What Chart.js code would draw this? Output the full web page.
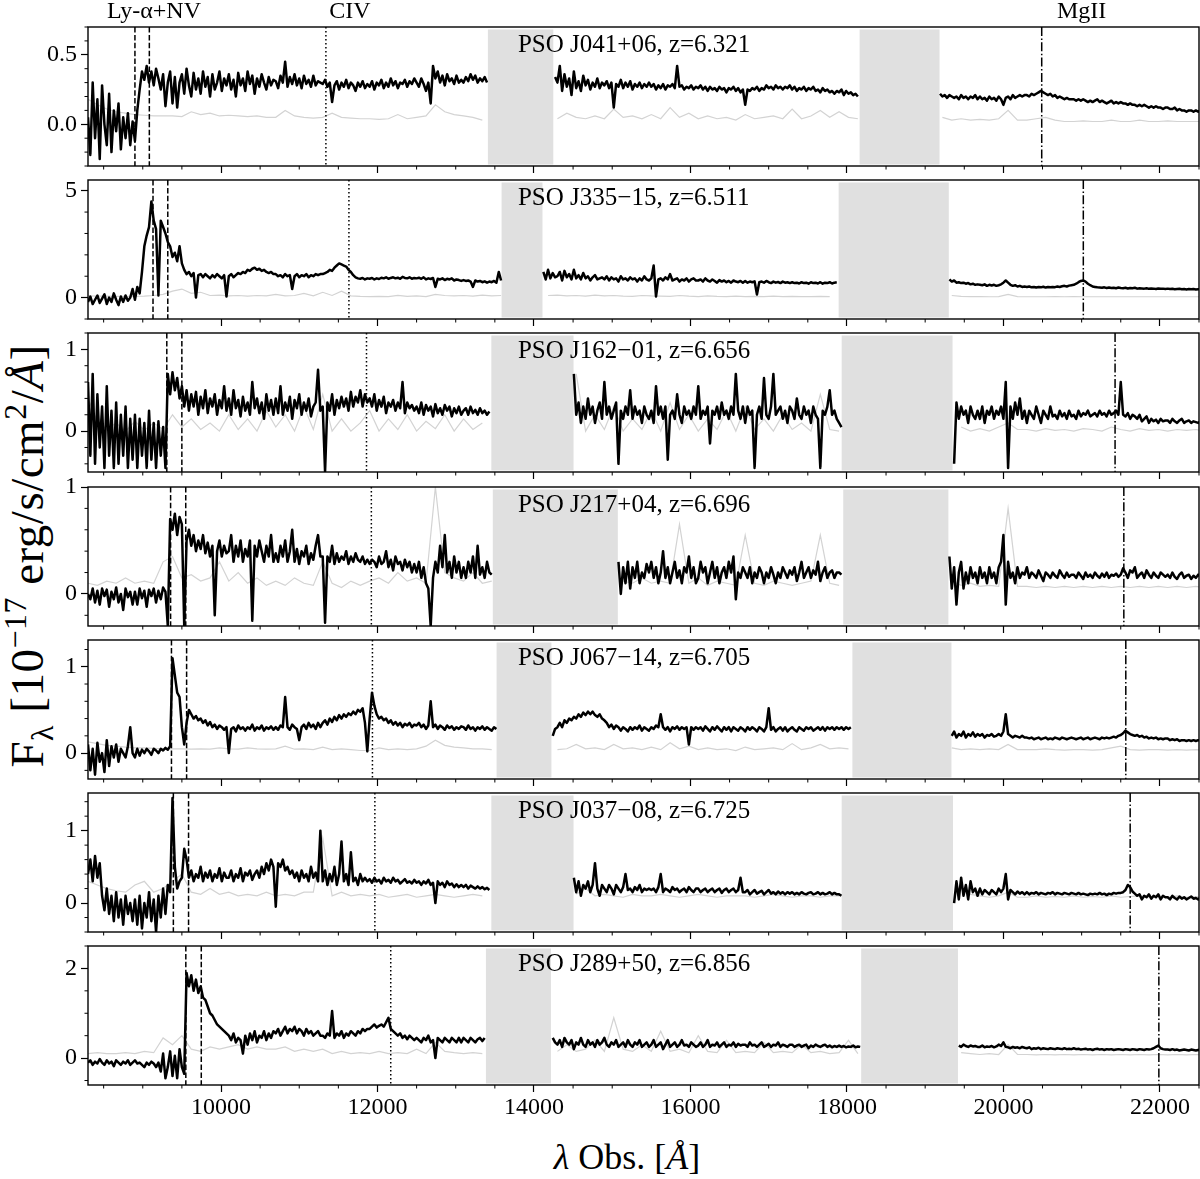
<!DOCTYPE html>
<html>
<head>
<meta charset="utf-8">
<script src="https://cdn.jsdelivr.net/npm/chart.js@4.4.1/dist/chart.umd.min.js"></script>
<style>
body { margin: 0; background: #fff; }
#wrap { position: relative; width: 1200px; height: 1179px; overflow: hidden; font-family: "Liberation Serif", serif; color: #000; }
#wrap canvas { position: absolute; left: 0; }
#xlab { position: absolute; left: 627px; top: 1157px; transform: translate(-50%, -50%); font-size: 36px; white-space: nowrap; }
#ylab { position: absolute; left: 27px; top: 556px; transform: translate(-50%, -50%) rotate(-90deg); font-size: 47px; letter-spacing: 0.5px; white-space: nowrap; }
sup, sub { font-size: 0.68em; line-height: 0; }
</style>
</head>
<body>
<div id="wrap">
  <div id="ylab">F<sub>λ</sub> [10<sup>−17</sup> erg/s/cm<sup>2</sup>/<i>Å</i>]</div>
  <div id="xlab"><i>λ</i> Obs. [<i>Å</i>]</div>
</div>
<script>
// null = no data (telluric gap)
const _ = null;

const names = ['PSO J041+06', 'PSO J335\u221215', 'PSO J162\u221201', 'PSO J217+04', 'PSO J067\u221214', 'PSO J037\u221208', 'PSO J289+50'];
const redshifts = [6.321, 6.511, 6.656, 6.696, 6.705, 6.725, 6.856];
// rest wavelengths: Ly-a, NV, CIV, MgII
const restLines = [1215.67, 1240.81, 1549.06, 2798.75];
const topLabels = ['Ly-\u03b1+NV', 'CIV', 'MgII'];
const topLabelWave = [9143, 11648, 21000];

// grey bands (observed wavelength ranges)
const telluric = [
  [[13411, 14247], [18162, 19184]],
  [[13586, 14109], [17894, 19302]],
  [[13455, 14506], [17933, 19350]],
  [[13474, 15072], [17953, 19297]],
  [[13522, 14223], [18070, 19336]],
  [[13455, 14506], [17933, 19356]],
  [[13386, 14217], [18182, 19419]]
];

const xTicks = [10000, 12000, 14000, 16000, 18000, 20000, 22000];
const yMin = [-0.3, -1.0, -0.5, -0.3, -0.3, -0.4, -0.6];
const yMax = [0.7, 5.5, 1.2, 1.0, 1.31, 1.52, 2.5];
const yTicks = [[0, 0.5], [0, 5], [0, 1], [0, 1], [0, 1], [0, 1], [0, 2]];
const yMinor = [0.1, 1, 0.2, 0.2, 0.2, 0.2, 0.5];

// flux sampled every 30 A from 8300 A (rows of 600 A), error every 120 A
const fluxStart = 8300, fluxStep = 30;
const errStart = 8300, errStep = 120;

const fluxP1 = [
  0.05,-0.22,0.3,-0.1,0.18,-0.25,0.28,0.0,-0.15,0.22,-0.2,0.1,-0.05,0.15,-0.18,0.05,-0.1,0.08,-0.15,0.02,
  -0.12,0.1,0.25,0.38,0.32,0.42,0.3,0.38,0.28,0.4,0.33,0.25,0.36,0.13,0.3,0.38,0.15,0.34,0.12,0.3,
  0.36,0.22,0.4,0.28,0.2,0.37,0.25,0.33,0.22,0.38,0.27,0.34,0.2,0.36,0.25,0.3,0.38,0.24,0.33,0.28,
  0.36,0.25,0.32,0.2,0.37,0.28,0.33,0.24,0.38,0.29,0.35,0.22,0.33,0.27,0.36,0.3,0.25,0.34,0.28,0.32,
  0.31,0.26,0.35,0.3,0.45,0.27,0.34,0.29,0.36,0.28,0.33,0.26,0.35,0.29,0.32,0.27,0.35,0.28,0.31,0.3,
  0.29,0.32,0.27,0.3,0.16,0.28,0.31,0.25,0.3,0.27,0.32,0.26,0.3,0.28,0.24,0.3,0.27,0.31,0.26,0.29,
  0.27,0.31,0.25,0.3,0.28,0.32,0.26,0.3,0.27,0.33,0.28,0.31,0.26,0.3,0.29,0.32,0.27,0.31,0.29,0.33,
  0.3,0.27,0.33,0.29,0.24,0.3,0.15,0.42,0.33,0.38,0.3,0.35,0.28,0.36,0.31,0.33,0.29,0.35,0.3,0.32,
  0.3,0.34,0.31,0.36,0.32,0.35,0.3,0.33,0.31,0.34,0.3,_,_,_,_,_,_,_,_,_,
  _,_,_,_,_,_,_,_,_,_,_,_,_,_,_,_,_,_,_,0.34,
  0.3,0.42,0.24,0.36,0.27,0.33,0.21,0.38,0.26,0.31,0.24,0.35,0.28,0.32,0.25,0.3,0.27,0.33,0.26,0.3,
  0.28,0.31,0.26,0.3,0.12,0.29,0.27,0.32,0.26,0.3,0.27,0.31,0.25,0.29,0.27,0.3,0.26,0.29,0.27,0.3,
  0.27,0.29,0.25,0.28,0.26,0.29,0.25,0.28,0.27,0.29,0.26,0.42,0.27,0.28,0.25,0.27,0.26,0.28,0.25,0.27,
  0.26,0.28,0.25,0.27,0.24,0.27,0.25,0.26,0.24,0.27,0.25,0.26,0.23,0.26,0.25,0.27,0.24,0.26,0.23,0.25,
  0.14,0.25,0.24,0.26,0.25,0.27,0.24,0.26,0.25,0.28,0.26,0.27,0.25,0.28,0.26,0.27,0.25,0.27,0.26,0.28,
  0.25,0.27,0.24,0.26,0.25,0.27,0.24,0.26,0.25,0.27,0.24,0.25,0.23,0.26,0.24,0.25,0.23,0.24,0.22,0.24,
  0.23,0.25,0.21,0.24,0.22,0.23,0.21,0.22,0.2,_,_,_,_,_,_,_,_,_,_,_,
  _,_,_,_,_,_,_,_,_,_,_,_,_,_,_,_,_,_,_,_,
  _,_,_,0.22,0.2,0.21,0.19,0.21,0.2,0.19,0.2,0.18,0.21,0.19,0.2,0.18,0.2,0.19,0.21,0.18,
  0.2,0.18,0.19,0.17,0.2,0.18,0.19,0.17,0.2,0.18,0.14,0.19,0.2,0.18,0.21,0.19,0.2,0.21,0.2,0.21,
  0.21,0.2,0.22,0.21,0.22,0.23,0.24,0.23,0.22,0.21,0.22,0.2,0.21,0.19,0.2,0.19,0.18,0.19,0.18,0.18,
  0.18,0.17,0.18,0.17,0.18,0.17,0.16,0.17,0.16,0.17,0.18,0.16,0.17,0.16,0.15,0.16,0.17,0.15,0.16,0.15,
  0.16,0.15,0.15,0.14,0.15,0.14,0.14,0.13,0.14,0.13,0.14,0.13,0.12,0.13,0.12,0.13,0.12,0.12,0.11,0.12,
  0.12,0.11,0.11,0.12,0.1,0.11,0.1,0.1,0.09,0.1,0.1,0.09,0.1,0.09,0.1
];
const errP1 = [
  0.18,0.14,0.11,0.09,0.08,0.07,0.065,0.06,0.06,0.06,
  0.055,0.09,0.07,0.08,0.06,0.065,0.06,0.055,0.06,0.05,
  0.05,0.1,0.06,0.05,0.045,0.05,0.08,0.05,0.045,0.04,
  0.04,0.035,0.04,0.07,0.04,0.05,0.06,0.14,0.09,0.07,
  0.06,0.05,0.03,_,_,_,_,_,_,_,
  0.04,0.08,0.05,0.04,0.06,0.04,0.11,0.05,0.06,0.04,
  0.07,0.04,0.12,0.05,0.08,0.04,0.06,0.04,0.05,0.03,
  0.07,0.04,0.05,0.06,0.04,0.11,0.04,0.06,0.1,0.05,
  0.09,0.05,0.04,_,_,_,_,_,_,_,
  _,0.05,0.03,0.04,0.03,0.035,0.03,0.04,0.1,0.03,
  0.03,0.04,0.05,0.03,0.02,0.02,0.025,0.02,0.02,0.03,
  0.02,0.02,0.03,0.02,0.02,0.025,0.02,0.02,0.02,0.02
];

const fluxP2 = [
  -0.2,0.05,-0.3,-0.1,0.1,-0.25,-0.05,0.15,-0.3,0.0,-0.2,0.2,-0.1,-0.35,0.05,-0.2,0.1,-0.15,0.0,0.4,
  -0.1,0.5,0.2,1.2,2.4,2.9,3.3,4.5,3.6,3.2,0.1,3.6,3.3,3.0,2.6,2.4,1.9,2.1,1.7,2.4,
  1.6,1.3,1.1,1.2,1.0,1.15,0.0,1.05,1.1,0.95,1.1,1.0,0.9,1.05,0.95,1.1,1.0,0.9,1.05,0.05,
  1.0,1.1,0.95,1.05,1.15,1.1,1.2,1.15,1.3,1.25,1.35,1.4,1.3,1.35,1.25,1.3,1.2,1.15,1.2,1.1,
  1.1,1.0,1.05,0.95,1.1,1.0,1.05,0.4,1.0,1.1,0.95,1.05,1.0,1.1,0.95,1.05,1.0,1.1,1.05,1.1,
  1.1,1.15,1.2,1.3,1.25,1.4,1.5,1.6,1.55,1.5,1.45,1.3,1.2,1.05,0.95,0.9,0.88,0.92,0.85,0.9,
  0.88,0.92,0.85,0.9,0.87,0.93,0.9,0.95,0.88,0.92,0.95,0.9,0.93,0.88,0.97,0.92,0.9,0.95,0.88,0.92,
  0.9,0.93,0.88,0.95,0.85,0.9,0.87,0.92,0.5,0.88,0.85,0.9,0.82,0.88,0.85,0.9,0.8,0.85,0.82,0.78,
  0.82,0.78,0.8,0.75,0.5,0.8,0.75,0.78,0.72,0.76,0.7,0.75,0.72,0.78,0.7,1.2,0.8,_,_,_,
  _,_,_,_,_,_,_,_,_,_,_,_,_,_,1.2,0.85,1.3,0.9,1.15,0.95,
  1.0,1.2,0.8,1.25,0.95,1.1,0.85,1.3,0.9,1.05,0.85,1.15,0.9,1.0,0.8,0.95,1.05,0.85,0.9,0.95,
  0.85,1.0,0.8,0.95,0.85,0.9,0.75,1.0,0.85,0.9,0.8,0.95,0.85,0.9,0.75,0.9,0.8,1.0,0.85,0.8,
  0.9,1.5,0.05,0.85,0.9,0.8,0.95,0.85,1.1,0.8,0.85,0.9,0.75,0.85,0.8,0.9,0.75,0.85,0.9,0.8,
  0.8,0.85,0.75,0.9,0.8,0.75,0.85,0.78,0.7,0.82,0.75,0.8,0.72,0.78,0.7,0.8,0.75,0.72,0.78,0.7,
  0.78,0.7,0.75,0.72,0.76,0.15,0.72,0.75,0.7,0.78,0.72,0.68,0.75,0.7,0.73,0.68,0.75,0.7,0.72,0.68,
  0.72,0.68,0.7,0.66,0.72,0.68,0.7,0.65,0.72,0.68,0.7,0.66,0.72,0.65,0.7,0.68,0.72,0.66,0.7,0.72,
  _,_,_,_,_,_,_,_,_,_,_,_,_,_,_,_,_,_,_,_,
  _,_,_,_,_,_,_,_,_,_,_,_,_,_,_,_,_,_,_,_,
  _,_,_,_,_,_,_,0.85,0.75,0.8,0.7,0.72,0.68,0.7,0.65,0.68,0.62,0.65,0.6,0.62,
  0.6,0.58,0.62,0.55,0.6,0.57,0.6,0.55,0.58,0.62,0.7,0.8,0.7,0.6,0.55,0.58,0.52,0.55,0.5,0.52,
  0.5,0.52,0.48,0.5,0.47,0.5,0.48,0.51,0.47,0.5,0.48,0.5,0.49,0.52,0.5,0.53,0.55,0.52,0.56,0.58,
  0.6,0.65,0.72,0.78,0.8,0.75,0.65,0.58,0.52,0.5,0.48,0.47,0.46,0.48,0.45,0.47,0.45,0.46,0.44,0.47,
  0.45,0.44,0.46,0.43,0.45,0.44,0.46,0.42,0.44,0.43,0.42,0.44,0.41,0.43,0.42,0.4,0.43,0.41,0.42,0.4,
  0.42,0.4,0.41,0.39,0.4,0.41,0.39,0.4,0.38,0.4,0.39,0.4,0.38,0.39,0.4
];
const errP2 = [
  0.08,0.07,0.07,0.06,0.06,0.06,0.07,0.1,0.15,0.3,
  0.4,0.2,0.25,0.1,0.12,0.08,0.1,0.07,0.1,0.08,
  0.15,0.08,0.1,0.2,0.08,0.25,0.1,0.3,0.08,0.06,
  0.05,0.06,0.05,0.1,0.06,0.08,0.05,0.15,0.1,0.08,
  0.1,0.07,0.12,0.08,0.1,_,_,_,_,0.1,
  0.12,0.08,0.1,0.07,0.12,0.08,0.1,0.07,0.06,0.1,
  0.08,0.07,0.06,0.1,0.07,0.05,0.08,0.06,0.05,0.07,
  0.05,0.06,0.05,0.07,0.05,0.06,0.05,0.05,0.06,0.05,
  _,_,_,_,_,_,_,_,_,_,
  _,_,0.1,0.06,0.05,0.05,0.04,0.05,0.15,0.05,
  0.04,0.04,0.04,0.05,0.04,0.05,0.04,0.04,0.04,0.04,
  0.04,0.04,0.04,0.04,0.04,0.04,0.04,0.04,0.04,0.04
];

const fluxP3 = [
  0.6,-0.3,0.7,-0.4,0.45,-0.2,0.3,-0.45,0.55,-0.3,0.25,-0.45,0.35,-0.4,0.2,-0.3,0.3,-0.45,0.15,-0.35,
  0.2,-0.45,0.15,-0.3,0.1,-0.45,0.25,-0.35,0.1,-0.45,0.12,-0.3,0.05,-0.45,0.7,0.45,0.72,0.5,0.65,0.4,
  0.55,0.3,0.5,0.25,0.45,0.3,0.48,0.2,0.42,0.28,0.5,0.22,0.4,0.3,0.45,0.2,0.38,0.28,0.55,0.25,
  0.4,0.2,0.5,0.28,0.38,0.18,0.42,0.25,0.35,0.2,0.6,0.28,0.4,0.22,0.35,0.15,0.45,0.25,0.38,0.2,
  0.4,0.22,0.55,0.2,0.35,0.25,0.42,0.15,0.38,0.28,0.45,0.2,0.35,0.25,0.4,0.18,0.3,0.35,0.75,0.25,
  0.3,-0.5,0.35,0.25,0.45,0.2,0.38,0.28,0.42,0.3,0.4,0.25,0.48,0.3,0.42,0.35,0.5,0.3,0.45,0.35,
  0.4,0.3,0.45,0.25,0.38,0.3,0.42,0.22,0.35,0.3,0.38,0.25,0.35,0.28,0.6,0.22,0.35,0.28,0.32,0.25,
  0.3,0.22,0.35,0.2,0.32,0.25,0.3,0.18,0.33,0.22,0.28,0.2,0.32,0.25,0.3,0.18,0.28,0.22,0.3,0.2,
  0.25,0.28,0.2,0.3,0.22,0.26,0.2,0.28,0.22,0.25,0.2,0.24,_,_,_,_,_,_,_,_,
  _,_,_,_,_,_,_,_,_,_,_,_,_,_,_,_,_,_,_,_,
  _,_,_,_,_,_,_,0.7,0.2,0.35,0.1,0.3,0.15,0.4,0.2,0.3,0.1,0.25,0.35,0.15,
  0.6,0.2,0.3,0.15,0.25,0.35,-0.4,0.25,0.15,0.3,0.2,0.5,0.15,0.3,0.2,0.25,0.1,0.3,0.2,0.15,
  0.25,0.1,0.55,0.2,0.3,0.15,0.3,-0.35,0.2,0.25,0.15,0.45,0.2,0.1,0.3,0.2,0.25,0.15,0.3,0.2,
  0.55,0.15,0.25,0.2,0.3,-0.15,0.25,0.2,0.3,0.15,0.35,0.2,0.25,0.15,0.3,0.2,0.7,0.25,0.15,0.3,
  0.1,0.3,0.2,0.25,-0.45,0.2,0.3,0.15,0.65,0.2,0.15,0.3,0.7,0.2,0.25,0.3,0.15,0.25,0.1,0.3,
  0.25,0.15,0.4,0.2,0.15,0.3,0.2,0.25,0.1,0.3,0.2,0.15,-0.45,0.25,0.2,0.3,0.5,0.2,0.25,0.15,
  0.1,0.05,_,_,_,_,_,_,_,_,_,_,_,_,_,_,_,_,_,_,
  _,_,_,_,_,_,_,_,_,_,_,_,_,_,_,_,_,_,_,_,
  _,_,_,_,_,_,_,_,_,-0.4,0.35,0.15,0.3,0.2,0.25,0.1,0.3,0.2,0.15,0.25,
  0.15,0.3,0.1,0.25,0.2,0.3,0.15,0.25,0.2,0.3,0.15,0.6,-0.45,0.3,0.15,0.35,0.2,0.4,0.15,0.25,
  0.1,0.25,0.2,0.15,0.3,0.2,0.1,0.25,0.2,0.15,0.3,0.18,0.2,0.15,0.25,0.18,0.22,0.15,0.25,0.18,
  0.2,0.15,0.25,0.18,0.22,0.2,0.25,0.18,0.2,0.22,0.18,0.25,0.2,0.22,0.18,0.25,0.2,0.22,0.25,0.2,
  0.6,0.2,0.18,0.22,0.15,0.2,0.18,0.15,0.2,0.12,0.15,0.18,0.1,0.15,0.12,0.14,0.1,0.15,0.12,0.13,
  0.13,0.1,0.15,0.12,0.1,0.13,0.15,0.1,0.12,0.13,0.1,0.12,0.11,0.1,0.12
];
const errP3 = [
  0.4,0.12,0.02,0.1,0.0,0.12,0.01,0.1,0.02,0.2,
  0.05,0.15,0.02,0.1,0.0,0.2,0.02,0.15,0.0,0.25,
  0.05,0.2,0.0,0.3,0.02,0.45,0.0,0.15,0.0,0.1,
  0.25,0.0,0.15,0.02,0.2,0.0,0.12,0.03,0.2,0.0,
  0.15,0.02,0.1,_,_,_,_,_,_,_,
  _,_,0.7,0.0,0.2,0.02,0.3,0.0,0.15,0.02,
  0.25,0.0,0.35,0.02,0.2,0.0,0.15,0.02,0.25,0.0,
  0.3,0.02,0.15,0.0,0.2,0.02,0.1,0.0,0.45,0.02,
  0.0,_,_,_,_,_,_,_,_,_,
  _,_,_,0.05,0.0,0.03,0.0,0.05,0.1,0.02,
  0.02,0.0,0.03,0.01,0.02,0.0,0.03,0.02,0.0,0.05,
  0.02,0.0,0.03,0.01,0.02,0.0,0.02,0.01,0.02,0.0
];

const fluxP4 = [
  0.0,-0.05,0.05,-0.08,0.03,-0.1,0.05,-0.02,0.04,-0.12,0.02,-0.05,0.06,-0.08,0.0,-0.15,0.05,-0.03,0.02,-0.1,
  0.02,-0.1,0.05,-0.04,0.03,-0.12,0.04,-0.02,0.05,-0.08,0.03,-0.05,0.06,0.02,-0.3,0.7,0.6,0.75,0.55,0.72,
  0.65,-0.3,0.5,0.6,0.45,0.55,0.4,0.5,0.42,0.55,0.38,0.48,0.35,0.45,-0.2,0.4,0.5,0.35,0.45,0.38,
  0.4,0.55,0.3,0.45,0.35,0.5,0.3,0.42,0.35,0.5,-0.25,0.45,0.35,0.5,0.4,0.3,0.45,0.35,0.55,0.3,
  0.38,0.3,0.45,0.35,0.5,0.3,0.4,0.6,0.3,0.42,0.28,0.4,0.35,0.45,0.28,0.38,0.32,0.45,0.55,0.35,
  0.35,-0.27,0.35,0.3,0.45,0.28,0.38,0.3,0.35,0.32,0.4,0.28,0.35,0.3,0.38,0.32,0.3,0.35,0.28,0.32,
  0.28,0.32,0.3,0.25,0.35,0.28,0.3,0.4,0.25,0.32,0.22,0.35,0.28,0.3,0.22,0.32,0.25,0.3,0.2,0.28,
  0.2,0.3,0.15,0.25,0.1,0.05,-0.3,0.15,0.3,0.2,0.45,0.25,0.55,0.2,0.3,0.15,0.35,0.2,0.3,0.15,
  0.25,0.15,0.3,0.2,0.35,0.15,0.45,0.18,0.25,0.15,0.3,0.2,0.18,_,_,_,_,_,_,_,
  _,_,_,_,_,_,_,_,_,_,_,_,_,_,_,_,_,_,_,_,
  _,_,_,_,_,_,_,_,_,_,_,_,_,_,_,_,_,_,_,_,
  _,_,_,_,_,_,0.3,0.0,0.25,0.1,0.3,0.05,0.25,0.15,0.3,0.1,0.2,0.15,0.28,0.2,
  0.3,0.15,0.25,0.1,0.2,0.4,0.15,0.25,0.1,0.2,0.3,0.15,0.22,0.1,0.25,0.2,0.35,0.15,0.25,0.1,
  0.15,0.3,0.2,0.25,0.1,0.2,0.3,0.15,0.25,0.1,0.2,0.25,0.15,0.3,0.2,0.35,-0.05,0.2,0.15,0.25,
  0.2,0.15,0.25,0.1,0.2,0.15,0.25,0.2,0.1,0.2,0.15,0.25,0.18,0.1,0.2,0.15,0.25,0.2,0.15,0.22,
  0.18,0.25,0.12,0.2,0.3,0.15,0.2,0.25,0.15,0.22,0.18,0.3,0.12,0.2,0.25,0.15,0.2,0.22,0.15,0.2,
  0.2,0.18,_,_,_,_,_,_,_,_,_,_,_,_,_,_,_,_,_,_,
  _,_,_,_,_,_,_,_,_,_,_,_,_,_,_,_,_,_,_,_,
  _,_,_,_,_,_,_,0.35,0.05,0.25,-0.1,0.2,0.3,0.05,0.2,0.1,0.25,0.15,0.2,0.1,
  0.25,0.15,0.2,0.1,0.25,0.15,0.2,0.1,0.25,0.3,0.55,-0.1,0.3,0.15,0.2,0.1,0.25,0.15,0.2,0.18,
  0.25,0.15,0.2,0.18,0.15,0.22,0.17,0.12,0.2,0.18,0.15,0.2,0.17,0.15,0.22,0.18,0.15,0.2,0.16,0.18,
  0.18,0.15,0.2,0.17,0.14,0.2,0.16,0.18,0.15,0.2,0.17,0.15,0.19,0.16,0.2,0.15,0.18,0.17,0.19,0.16,
  0.18,0.24,0.2,0.15,0.22,0.2,0.25,0.15,0.18,0.2,0.15,0.22,0.18,0.15,0.2,0.17,0.15,0.2,0.18,0.16,
  0.18,0.15,0.2,0.16,0.14,0.18,0.2,0.15,0.17,0.18,0.14,0.17,0.15,0.18,0.16
];
const errP4 = [
  0.1,0.08,0.12,0.1,0.15,0.1,0.12,0.1,0.3,0.35,
  0.15,0.18,0.12,0.15,0.3,0.12,0.2,0.1,0.15,0.08,
  0.12,0.08,0.15,0.1,0.08,0.3,0.1,0.06,0.12,0.08,
  0.12,0.15,0.1,0.2,0.12,0.15,0.1,1.0,0.2,0.15,
  0.12,0.2,0.1,0.12,_,_,_,_,_,_,
  _,_,_,_,_,_,_,0.12,0.1,0.15,
  0.1,0.12,0.1,0.65,0.1,0.15,0.08,0.12,0.1,0.08,
  0.55,0.1,0.08,0.12,0.1,0.08,0.1,0.12,0.55,0.1,
  0.08,_,_,_,_,_,_,_,_,_,
  _,_,0.12,0.08,0.1,0.07,0.08,0.07,0.8,0.07,
  0.07,0.06,0.07,0.06,0.07,0.06,0.07,0.06,0.07,0.06,
  0.07,0.06,0.07,0.06,0.07,0.06,0.07,0.06,0.07,0.06
];

const fluxP5 = [
  0.1,-0.2,0.05,-0.25,0.12,-0.1,0.0,-0.22,0.15,-0.15,0.08,-0.05,0.1,-0.1,0.05,0.0,-0.05,0.08,0.3,0.0,
  -0.05,0.05,-0.03,0.04,0.0,0.05,0.02,-0.02,0.05,0.03,0.0,0.05,0.03,0.06,0.04,0.08,1.1,0.9,0.7,0.65,
  0.3,0.1,0.35,0.5,0.45,0.4,0.43,0.38,0.4,0.35,0.38,0.32,0.36,0.3,0.33,0.28,0.32,0.3,0.27,0.3,
  0.0,0.28,0.3,0.25,0.32,0.28,0.3,0.26,0.3,0.28,0.33,0.26,0.3,0.28,0.32,0.26,0.3,0.28,0.31,0.27,
  0.3,0.27,0.32,0.3,0.65,0.3,0.27,0.33,0.3,0.28,0.15,0.3,0.33,0.28,0.35,0.3,0.33,0.28,0.35,0.3,
  0.35,0.38,0.33,0.4,0.36,0.42,0.38,0.44,0.4,0.45,0.42,0.46,0.44,0.48,0.45,0.5,0.48,0.52,0.35,0.02,
  0.4,0.7,0.55,0.45,0.4,0.42,0.38,0.4,0.35,0.38,0.33,0.36,0.32,0.35,0.3,0.34,0.32,0.35,0.3,0.33,
  0.32,0.35,0.3,0.33,0.28,0.32,0.6,0.3,0.33,0.28,0.32,0.3,0.27,0.32,0.29,0.31,0.27,0.3,0.28,0.31,
  0.3,0.27,0.32,0.28,0.3,0.26,0.3,0.28,0.31,0.27,0.3,0.28,0.26,0.3,0.28,_,_,_,_,_,
  _,_,_,_,_,_,_,_,_,_,_,_,_,_,_,_,_,_,0.2,0.28,
  0.3,0.35,0.3,0.38,0.35,0.4,0.38,0.42,0.4,0.45,0.42,0.47,0.44,0.48,0.45,0.48,0.44,0.42,0.45,0.4,
  0.38,0.35,0.3,0.33,0.28,0.32,0.3,0.26,0.3,0.28,0.25,0.3,0.27,0.3,0.28,0.32,0.26,0.3,0.28,0.26,
  0.3,0.28,0.32,0.3,0.45,0.3,0.27,0.3,0.25,0.3,0.28,0.31,0.27,0.3,0.28,0.3,0.1,0.3,0.27,0.3,
  0.28,0.3,0.26,0.31,0.28,0.25,0.3,0.27,0.31,0.28,0.25,0.3,0.27,0.3,0.25,0.3,0.28,0.26,0.3,0.28,
  0.25,0.3,0.27,0.3,0.28,0.25,0.3,0.28,0.25,0.3,0.52,0.27,0.3,0.25,0.28,0.3,0.26,0.3,0.25,0.28,
  0.3,0.27,0.25,0.3,0.28,0.26,0.3,0.28,0.3,0.26,0.28,0.3,0.27,0.3,0.26,0.3,0.28,0.3,0.27,0.3,
  0.28,0.3,0.27,0.3,0.28,0.3,_,_,_,_,_,_,_,_,_,_,_,_,_,_,
  _,_,_,_,_,_,_,_,_,_,_,_,_,_,_,_,_,_,_,_,
  _,_,_,_,_,_,_,_,0.2,0.25,0.18,0.22,0.2,0.25,0.18,0.22,0.2,0.24,0.19,0.22,
  0.2,0.22,0.18,0.21,0.2,0.22,0.19,0.2,0.22,0.2,0.25,0.45,0.22,0.2,0.18,0.2,0.19,0.18,0.2,0.18,
  0.18,0.17,0.18,0.16,0.17,0.18,0.16,0.17,0.18,0.16,0.17,0.16,0.18,0.17,0.16,0.18,0.17,0.16,0.17,0.18,
  0.17,0.16,0.17,0.18,0.16,0.17,0.18,0.16,0.17,0.18,0.17,0.16,0.18,0.17,0.18,0.17,0.18,0.19,0.18,0.2,
  0.21,0.23,0.26,0.24,0.22,0.21,0.2,0.21,0.19,0.2,0.18,0.19,0.17,0.18,0.17,0.18,0.16,0.17,0.16,0.17,
  0.17,0.15,0.16,0.15,0.16,0.14,0.15,0.15,0.14,0.15,0.14,0.15,0.14,0.15,0.14
];
const errP5 = [
  0.13,0.11,0.09,0.08,0.07,0.06,0.06,0.055,0.05,0.05,
  0.05,0.045,0.05,0.045,0.06,0.05,0.045,0.06,0.05,0.045,
  0.05,0.08,0.045,0.05,0.04,0.07,0.04,0.05,0.04,0.03,
  0.03,0.06,0.04,0.05,0.04,0.05,0.08,0.15,0.09,0.07,
  0.06,0.05,0.05,0.04,_,_,_,_,_,_,
  0.04,0.05,0.1,0.05,0.06,0.04,0.1,0.05,0.06,0.04,
  0.07,0.04,0.12,0.05,0.08,0.04,0.06,0.04,0.05,0.03,
  0.07,0.04,0.05,0.06,0.04,0.11,0.04,0.06,0.1,0.05,
  0.06,0.05,_,_,_,_,_,_,_,_,
  _,_,0.06,0.04,0.05,0.04,0.05,0.04,0.1,0.04,
  0.04,0.04,0.05,0.04,0.035,0.04,0.04,0.035,0.04,0.06,
  0.08,0.04,0.035,0.04,0.04,0.035,0.04,0.035,0.04,0.035
];

const fluxP6 = [
  0.4,0.6,0.3,0.65,0.35,0.55,0.1,-0.1,0.2,-0.15,0.1,-0.25,0.15,-0.2,0.05,-0.3,0.1,-0.15,0.0,-0.25,
  0.05,-0.3,0.1,-0.35,0.0,-0.2,0.15,-0.25,0.05,-0.4,0.1,-0.2,0.2,-0.15,0.25,0.15,1.45,0.5,0.2,0.3,
  0.35,0.75,0.6,0.35,0.45,0.3,0.4,0.35,0.5,0.3,0.42,0.35,0.45,0.3,0.4,0.35,0.48,0.3,0.42,0.35,
  0.35,0.45,0.3,0.4,0.35,0.48,0.3,0.42,0.38,0.45,0.32,0.4,0.45,0.35,0.5,0.4,0.55,0.45,0.6,0.5,
  -0.05,0.55,0.5,0.6,0.45,0.5,0.4,0.45,0.35,0.42,0.3,0.45,0.35,0.4,0.3,0.5,0.35,0.42,0.3,1.0,
  0.3,0.45,0.25,0.4,0.3,0.5,0.25,0.4,0.85,0.3,0.4,0.25,0.7,0.3,0.35,0.25,0.4,0.3,0.35,0.3,
  0.33,0.28,0.35,0.3,0.32,0.27,0.35,0.3,0.32,0.28,0.35,0.3,0.32,0.27,0.3,0.33,0.28,0.3,0.27,0.32,
  0.28,0.3,0.25,0.3,0.27,0.32,0.25,0.28,0.0,0.3,0.25,0.28,0.22,0.3,0.25,0.27,0.22,0.26,0.22,0.25,
  0.22,0.25,0.2,0.24,0.22,0.2,0.23,0.2,0.22,0.19,0.21,0.18,_,_,_,_,_,_,_,_,
  _,_,_,_,_,_,_,_,_,_,_,_,_,_,_,_,_,_,_,_,
  _,_,_,_,_,_,_,0.35,0.15,0.3,0.1,0.25,0.2,0.3,0.15,0.25,0.55,0.2,0.1,0.25,
  0.2,0.15,0.25,0.2,0.12,0.25,0.2,0.15,0.22,0.4,0.18,0.2,0.15,0.22,0.18,0.25,0.15,0.2,0.18,0.2,
  0.18,0.2,0.15,0.22,0.4,0.15,0.2,0.18,0.15,0.22,0.18,0.2,0.15,0.18,0.2,0.15,0.22,0.18,0.15,0.2,
  0.2,0.15,0.18,0.2,0.15,0.18,0.2,0.15,0.18,0.2,0.14,0.18,0.2,0.15,0.18,0.2,0.15,0.18,0.35,0.15,
  0.15,0.18,0.12,0.15,0.18,0.13,0.15,0.17,0.12,0.15,0.18,0.13,0.15,0.12,0.16,0.13,0.15,0.12,0.15,0.13,
  0.15,0.12,0.14,0.12,0.15,0.13,0.12,0.14,0.15,0.12,0.13,0.15,0.12,0.14,0.12,0.13,0.15,0.12,0.14,0.12,
  0.12,0.1,_,_,_,_,_,_,_,_,_,_,_,_,_,_,_,_,_,_,
  _,_,_,_,_,_,_,_,_,_,_,_,_,_,_,_,_,_,_,_,
  _,_,_,_,_,_,_,_,_,0.0,0.3,0.05,0.35,0.1,0.25,0.05,0.3,0.15,0.2,0.1,
  0.2,0.12,0.18,0.15,0.12,0.18,0.15,0.12,0.2,0.15,0.2,0.4,0.05,0.18,0.15,0.12,0.16,0.13,0.15,0.12,
  0.15,0.12,0.14,0.13,0.15,0.12,0.14,0.13,0.12,0.14,0.13,0.15,0.12,0.14,0.13,0.12,0.14,0.13,0.12,0.14,
  0.13,0.12,0.14,0.12,0.13,0.12,0.11,0.13,0.12,0.13,0.12,0.14,0.12,0.13,0.11,0.13,0.12,0.14,0.13,0.14,
  0.14,0.15,0.18,0.25,0.22,0.16,0.13,0.1,0.12,0.05,0.1,0.08,0.12,0.06,0.1,0.08,0.12,0.05,0.1,0.08,
  0.08,0.05,0.1,0.07,0.05,0.09,0.06,0.08,0.05,0.07,0.09,0.06,0.07,0.05,0.08
];
const errP6 = [
  0.3,0.25,0.2,0.17,0.15,0.25,0.3,0.15,0.2,0.3,
  0.4,0.15,0.12,0.2,0.12,0.15,0.1,0.12,0.1,0.15,
  0.1,0.12,0.1,0.15,0.15,0.9,0.1,0.15,0.1,0.12,
  0.1,0.12,0.08,0.1,0.12,0.08,0.1,0.12,0.1,0.08,
  0.1,0.12,0.1,_,_,_,_,_,_,_,
  _,_,0.12,0.2,0.1,0.12,0.1,0.08,0.12,0.1,
  0.1,0.12,0.1,0.08,0.1,0.12,0.1,0.08,0.1,0.1,
  0.1,0.08,0.1,0.12,0.1,0.08,0.1,0.1,0.08,0.1,
  0.1,_,_,_,_,_,_,_,_,_,
  _,_,_,0.2,0.12,0.1,0.08,0.1,0.15,0.08,
  0.08,0.1,0.08,0.09,0.08,0.1,0.08,0.09,0.08,0.1,
  0.08,0.09,0.1,0.08,0.09,0.08,0.1,0.08,0.09,0.08
];

const fluxP7 = [
  -0.1,-0.05,-0.15,-0.08,-0.12,-0.02,-0.1,-0.15,-0.05,-0.12,-0.08,-0.18,-0.05,-0.1,-0.15,-0.08,-0.12,-0.05,-0.15,-0.1,
  -0.05,-0.12,-0.1,-0.15,-0.2,-0.1,-0.15,-0.08,-0.12,-0.2,-0.1,-0.3,0.1,-0.45,-0.2,0.15,-0.4,0.05,-0.45,0.2,
  -0.2,-0.35,1.9,1.6,1.85,1.5,1.75,1.45,1.6,1.35,1.3,1.15,1.0,0.95,0.85,0.75,0.7,0.65,0.6,0.55,
  0.5,0.4,0.55,0.35,0.45,0.4,0.1,0.5,0.3,0.55,0.4,0.6,0.35,0.5,0.45,0.6,0.4,0.55,0.45,0.6,
  0.55,0.65,0.5,0.6,0.7,0.55,0.65,0.6,0.7,0.55,0.65,0.6,0.5,0.65,0.55,0.6,0.5,0.55,0.6,0.5,
  0.5,0.45,0.55,0.5,1.05,0.45,0.55,0.5,0.6,0.45,0.55,0.5,0.6,0.55,0.5,0.6,0.55,0.65,0.6,0.65,
  0.65,0.7,0.75,0.68,0.72,0.75,0.7,0.8,0.9,0.65,0.6,0.55,0.5,0.55,0.45,0.5,0.42,0.5,0.45,0.4,
  0.45,0.4,0.35,0.45,0.4,0.5,0.35,0.4,0.0,0.45,0.4,0.35,0.45,0.4,0.35,0.45,0.4,0.35,0.45,0.35,
  0.45,0.4,0.35,0.45,0.4,0.35,0.42,0.45,0.38,0.45,_,_,_,_,_,_,_,_,_,_,
  _,_,_,_,_,_,_,_,_,_,_,_,_,_,_,_,_,_,0.45,0.35,
  0.3,0.4,0.25,0.45,0.35,0.3,0.4,0.2,0.35,0.3,0.45,0.3,0.25,0.4,0.3,0.35,0.25,0.4,0.3,0.35,
  0.45,0.3,0.25,0.35,0.3,0.4,0.25,0.3,0.35,0.25,0.4,0.3,0.25,0.35,0.3,0.4,0.25,0.3,0.35,0.25,
  0.3,0.4,0.25,0.3,0.35,0.2,0.3,0.4,0.25,0.3,0.35,0.25,0.3,0.4,0.28,0.3,0.25,0.35,0.3,0.25,
  0.28,0.35,0.25,0.3,0.4,0.25,0.3,0.28,0.35,0.25,0.3,0.35,0.25,0.3,0.28,0.35,0.25,0.32,0.28,0.3,
  0.3,0.25,0.35,0.28,0.3,0.25,0.3,0.35,0.25,0.28,0.32,0.25,0.3,0.28,0.35,0.25,0.3,0.28,0.25,0.3,
  0.3,0.25,0.28,0.3,0.25,0.28,0.3,0.22,0.28,0.25,0.3,0.27,0.25,0.28,0.3,0.25,0.28,0.24,0.27,0.25,
  0.28,0.25,0.27,0.24,0.26,0.25,0.28,0.24,0.26,0.25,_,_,_,_,_,_,_,_,_,_,
  _,_,_,_,_,_,_,_,_,_,_,_,_,_,_,_,_,_,_,_,
  _,_,_,_,_,_,_,_,_,_,_,0.28,0.25,0.3,0.27,0.25,0.28,0.26,0.27,0.25,
  0.25,0.28,0.24,0.26,0.25,0.27,0.24,0.26,0.3,0.27,0.35,0.25,0.24,0.22,0.25,0.23,0.24,0.22,0.25,0.23,
  0.22,0.24,0.2,0.22,0.21,0.23,0.2,0.22,0.21,0.2,0.22,0.21,0.2,0.22,0.21,0.2,0.22,0.2,0.21,0.2,
  0.22,0.2,0.21,0.19,0.2,0.21,0.19,0.2,0.18,0.2,0.21,0.19,0.2,0.18,0.2,0.19,0.2,0.18,0.19,0.2,
  0.19,0.18,0.2,0.19,0.18,0.2,0.19,0.18,0.2,0.19,0.18,0.2,0.19,0.2,0.22,0.25,0.28,0.22,0.2,0.19,
  0.19,0.18,0.2,0.18,0.19,0.17,0.18,0.19,0.18,0.17,0.19,0.18,0.17,0.18,0.19
];
const errP7 = [
  0.1,0.12,0.1,0.1,0.12,0.1,0.15,0.12,0.45,0.3,
  0.5,0.2,0.15,0.25,0.2,0.25,0.3,0.2,0.25,0.2,
  0.2,0.25,0.15,0.2,0.15,0.2,0.1,0.15,0.1,0.12,
  0.1,0.15,0.1,0.12,0.1,0.2,0.1,0.35,0.15,0.12,
  0.1,0.12,0.1,_,_,_,_,_,_,_,
  0.15,0.3,0.15,0.2,0.4,0.15,0.9,0.2,0.15,0.3,
  0.15,0.6,0.15,0.2,0.12,0.5,0.15,0.12,0.4,0.12,
  0.15,0.12,0.35,0.12,0.15,0.12,0.3,0.12,0.15,0.1,
  0.12,0.4,0.1,_,_,_,_,_,_,_,
  _,_,_,0.12,0.1,0.08,0.1,0.08,0.3,0.08,
  0.08,0.07,0.08,0.07,0.08,0.07,0.08,0.07,0.08,0.07,
  0.08,0.07,0.08,0.07,0.08,0.07,0.08,0.07,0.08,0.07
];

const fluxes = [fluxP1, fluxP2, fluxP3, fluxP4, fluxP5, fluxP6, fluxP7];
const errors = [errP1, errP2, errP3, errP4, errP5, errP6, errP7];

Chart.defaults.font.family = '"Liberation Serif", serif';
Chart.defaults.color = '#000';

const lineDash = [[5.5, 2.4], [5.5, 2.4], [1.5, 2.5], [9, 2.4, 1.5, 2.4]];

const panelPlugin = {
  id: 'panel',
  beforeDatasetsDraw(chart, args, o) {
    const { ctx, chartArea: a, scales: { x } } = chart;
    ctx.save();
    ctx.fillStyle = '#e0e0e0';
    telluric[o.p].forEach(g => {
      const x0 = x.getPixelForValue(g[0]);
      const x1 = x.getPixelForValue(g[1]);
      ctx.fillRect(x0, a.top + 2.5, x1 - x0, a.bottom - a.top - 4);
    });
    ctx.restore();
  },
  afterDatasetsDraw(chart, args, o) {
    const { ctx, chartArea: a, scales: { x } } = chart;
    ctx.save();
    ctx.strokeStyle = '#000';
    ctx.lineWidth = 1.5;
    restLines.forEach((rl, k) => {
      const px = x.getPixelForValue(rl * (1 + redshifts[o.p]));
      ctx.setLineDash(lineDash[k]);
      ctx.beginPath();
      ctx.moveTo(px, a.top);
      ctx.lineTo(px, a.bottom);
      ctx.stroke();
    });
    ctx.restore();
  },
  afterDraw(chart, args, o) {
    const { ctx, chartArea: a, scales: { x, y } } = chart;
    const p = o.p;
    ctx.save();
    // minor ticks
    ctx.strokeStyle = '#000';
    ctx.lineWidth = 1;
    ctx.beginPath();
    for (let v = 8500; v <= 22500; v += 500) {
      if (v % 2000 === 0) continue;
      const px = x.getPixelForValue(v);
      ctx.moveTo(px, a.bottom);
      ctx.lineTo(px, a.bottom + 3.5);
    }
    const st = yMinor[p];
    for (let k = Math.ceil(yMin[p] / st - 1e-9); k * st <= yMax[p] + 1e-9; k++) {
      const v = k * st;
      if (yTicks[p].some(t => Math.abs(t - v) < 1e-9)) continue;
      const py = y.getPixelForValue(v);
      ctx.moveTo(a.left, py);
      ctx.lineTo(a.left - 3.5, py);
    }
    ctx.stroke();
    // frame
    ctx.lineWidth = 1.4;
    ctx.strokeRect(a.left, a.top, a.right - a.left, a.bottom - a.top);
    // object name
    ctx.fillStyle = '#000';
    ctx.font = '25px "Liberation Serif", serif';
    ctx.textBaseline = 'middle';
    ctx.textAlign = 'left';
    ctx.fillText(names[p] + ', z=' + redshifts[p].toFixed(3), a.left + 0.387 * (a.right - a.left), a.top + 18);
    // line names above first panel
    if (p === 0) {
      ctx.font = '24px "Liberation Serif", serif';
      ctx.textAlign = 'center';
      topLabels.forEach((t, k) => {
        ctx.fillText(t, x.getPixelForValue(topLabelWave[k]), a.top - 15);
      });
    }
    ctx.restore();
  }
};

const wrap = document.getElementById('wrap');

for (let p = 0; p < 7; p++) {
  const top = Math.round(27.3 + 153.07 * p);
  const h = 139;
  const padTop = p === 0 ? 27 : 20;
  const xh = p === 6 ? 40 : 20;
  const cv = document.createElement('canvas');
  const ch = padTop + h + xh;
  cv.width = 1200;
  cv.height = ch;
  cv.style.width = '1200px';
  cv.style.height = ch + 'px';
  cv.style.top = (top - padTop) + 'px';
  wrap.appendChild(cv);

  const fluxPts = fluxes[p].map((v, i) => ({ x: fluxStart + fluxStep * i, y: v }));
  const errPts = errors[p].map((v, i) => ({ x: errStart + errStep * i, y: v }));

  new Chart(cv.getContext('2d'), {
    type: 'line',
    data: {
      datasets: [
        { data: fluxPts, borderColor: '#000', borderWidth: 2.5, pointRadius: 0, tension: 0, spanGaps: false, order: 0, borderJoinStyle: 'round' },
        { data: errPts, borderColor: '#d3d3d3', borderWidth: 1.2, pointRadius: 0, tension: 0, spanGaps: false, order: 1 }
      ]
    },
    options: {
      responsive: false,
      animation: false,
      devicePixelRatio: 1,
      events: [],
      layout: { padding: { top: padTop, right: 1, left: 0, bottom: 0 } },
      plugins: { legend: { display: false }, tooltip: { enabled: false }, panel: { p: p } },
      scales: {
        x: {
          type: 'linear', min: 8300, max: 22500,
          afterBuildTicks: s => { s.ticks = xTicks.map(v => ({ value: v })); },
          afterFit: s => { s.height = xh; },
          border: { display: false },
          grid: { drawOnChartArea: false, drawTicks: true, tickLength: 7, tickWidth: 1.2, color: '#000' },
          ticks: { display: p === 6, font: { size: 24 }, color: '#000', padding: 1, maxRotation: 0, autoSkip: false, callback: v => String(v) }
        },
        y: {
          type: 'linear', min: yMin[p], max: yMax[p],
          afterBuildTicks: s => { s.ticks = yTicks[p].map(v => ({ value: v })); },
          afterFit: s => { s.width = 88; },
          border: { display: false },
          grid: { drawOnChartArea: false, drawTicks: true, tickLength: 7, tickWidth: 1.2, color: '#000' },
          ticks: { font: { size: 24 }, color: '#000', padding: 4, callback: v => p === 0 ? v.toFixed(1) : v.toFixed(0) }
        }
      }
    },
    plugins: [panelPlugin]
  });
}
</script>
</body>
</html>
